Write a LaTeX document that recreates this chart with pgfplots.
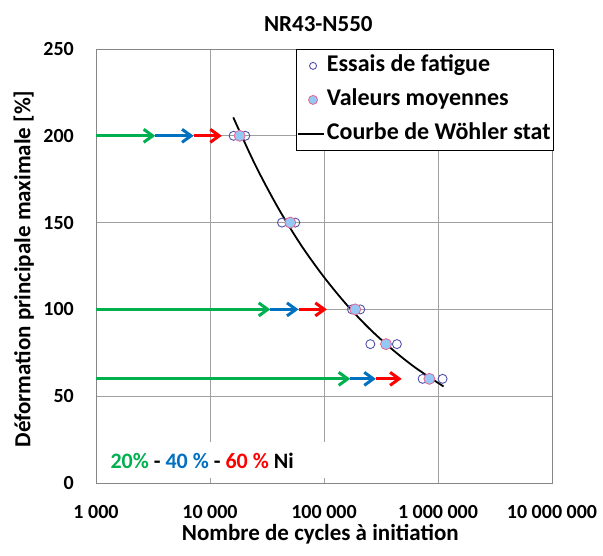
\documentclass[border=0pt]{standalone}
\usepackage{fontspec}
\setmainfont{Carlito}
\usepackage{pgfplots}
\usepackage{pgfplotstable}
\pgfplotsset{compat=1.18}
\usetikzlibrary{arrows.meta}
\definecolor{xlgreen}{RGB}{0,176,80}
\definecolor{xlblue}{RGB}{0,112,192}
\definecolor{xlred}{RGB}{255,0,0}
\definecolor{gridmaj}{RGB}{160,160,160}
\definecolor{gridmin}{RGB}{217,217,217}
\definecolor{axisgray}{RGB}{134,134,134}
\definecolor{openedge}{RGB}{80,80,170}
\definecolor{meanfill}{RGB}{150,200,245}
\definecolor{meanedge}{RGB}{230,100,140}

% essais de fatigue (cycles, deformation %)
\pgfplotstableread{
N       eps
16100   200
20400   200
42800   150
56000   150
176000  100
208000  100
255000  80
436000  80
733000  60
1097000 60
}\essais
% valeurs moyennes
\pgfplotstableread{
N       eps
18200   200
50600   150
188000  100
350000  80
840000  60
}\moyennes
% courbe de Woehler
\pgfplotstableread{
N       eps
16000   210.6
25120   182.8
39810   158.2
63100   136.9
100000  118.6
158500  102.6
251200  88.8
398100  76.9
631000  66.5
1119000 55.6
}\woehler

\tikzset{fleche/.style={line width=3.2pt, -{Straight Barb[length=9pt,width=13pt,line width=3pt]}}}
\pgfplotsset{
  wline legend/.style={legend image code/.code={\draw[##1] (0pt,0pt) -- (26pt,0pt);}},
  wmark legend/.style={legend image code/.code={%
    \draw[##1, mark size=#1, only marks] plot coordinates {(15pt,0pt)};
    \path (0pt,0pt) (26pt,0pt);}},
}

\begin{document}
\begin{tikzpicture}[x=1pt,y=1pt]
\useasboundingbox (-96,-72) rectangle (507,483);
\begin{axis}[
  at={(0,0)}, anchor=south west,
  scale only axis, width=456pt, height=434pt,
  xmode=log, log basis x=10,
  xmin=1000, xmax=10000000, ymin=0, ymax=250,
  xtick={1000,10000,100000,1000000,10000000},
  xticklabels={1 000,10 000,100 000,1 000 000,10 000 000},
  ytick={0,50,100,150,200,250},
  minor y tick num=0,
  grid=both,
  major grid style={gridmaj, line width=0.8pt},
  minor grid style={gridmin, line width=0.8pt},
  axis line style={axisgray, line width=0.9pt},
  major tick length=0pt, minor tick length=0pt,
  /pgf/number format/assume math mode=true,
  tick label style={font=\fontsize{20}{22}\selectfont\bfseries},
  xticklabel style={anchor=base, yshift=-35pt},
  yticklabel style={anchor=east, inner xsep=0pt, xshift=-22pt},
  legend style={at={(rel axis cs:1,1)}, anchor=north east, xshift=2pt,
    draw=black, fill=white, line width=0.8pt,
    font=\fontsize{24}{26}\selectfont\bfseries,
    inner xsep=1pt, inner ysep=6pt, row sep=13pt,
    nodes={inner xsep=2pt, inner ysep=0pt, text height=16pt, text depth=5pt}},
  legend cell align=left,
]
% fleches 20 % / 40 % / 60 % Ni
\addplot[xlgreen, fleche, forget plot] coordinates {(1000,200) (3310,200)};
\addplot[xlblue, fleche, forget plot] coordinates {(3310,200) (7180,200)};
\addplot[xlred, fleche, forget plot] coordinates {(7180,200) (12700,200)};
\addplot[xlgreen, fleche, forget plot] coordinates {(1000,100) (33800,100)};
\addplot[xlblue, fleche, forget plot] coordinates {(33800,100) (59800,100)};
\addplot[xlred, fleche, forget plot] coordinates {(59800,100) (106000,100)};
\addplot[xlgreen, fleche, forget plot] coordinates {(1000,60) (170000,60)};
\addplot[xlblue, fleche, forget plot] coordinates {(170000,60) (285000,60)};
\addplot[xlred, fleche, forget plot] coordinates {(285000,60) (480000,60)};

\addplot[only marks, mark=o, mark size=4.5pt, openedge, wmark legend=3.5pt,
  mark options={line width=0.9pt, fill=white}] table {\essais};
\addlegendentry{Essais de fatigue}
\addplot[only marks, mark=*, mark size=5.5pt, wmark legend=4.5pt,
  mark options={draw=meanedge, fill=meanfill, line width=0.8pt}] table {\moyennes};
\addlegendentry{Valeurs moyennes}
\addplot[black, line width=1.8pt, smooth, no marks, wline legend] table {\woehler};
\addlegendentry{Courbe de Wöhler stat}

% cadre blanc du texte
\fill[white] (axis cs:1030,3) rectangle (axis cs:139000,23.8);
\node[anchor=base west, font=\fontsize{22}{24}\selectfont\bfseries, inner sep=0pt]
  at (axis cs:1335,8.5) {\textcolor{xlgreen}{20\%} - \textcolor{xlblue}{40 \%} - \textcolor{xlred}{60 \%} Ni};
\end{axis}
\node[anchor=base, font=\fontsize{23}{25}\selectfont\bfseries] at (222.3,451.3) {NR43-N550};
\node[anchor=base, font=\fontsize{23}{25}\selectfont\bfseries, rotate=90] at (-65.7,214) {Déformation principale maximale [\%]};
\node[anchor=base, font=\fontsize{23}{25}\selectfont\bfseries] at (224.3,-57) {Nombre de cycles à initiation};
\end{tikzpicture}
\end{document}
